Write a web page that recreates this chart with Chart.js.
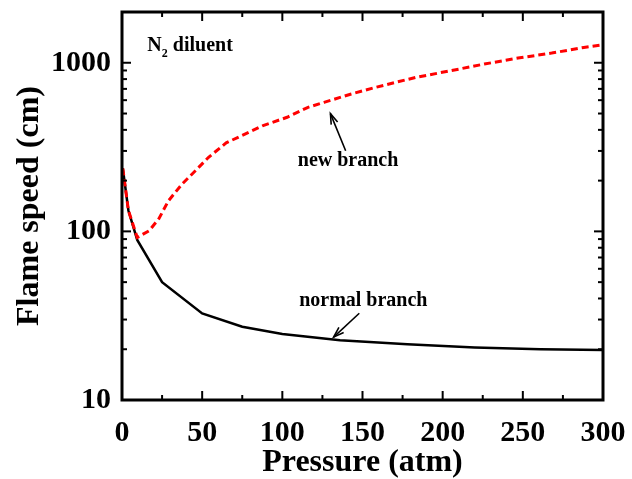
<!DOCTYPE html>
<html>
<head>
<meta charset="utf-8">
<script src="https://cdn.jsdelivr.net/npm/chart.js@4.4.1/dist/chart.umd.min.js"></script>
<style>
  html, body { margin: 0; padding: 0; background: #fff; }
</style>
</head>
<body>
<canvas id="flame" width="632" height="479"></canvas>
<script>
/* Flame speed vs pressure, N2 diluent */
const normalP = [0.5, 4, 9.5, 25, 50, 75, 100, 136, 178, 220, 261, 300];
const normalS = [236, 133, 89, 50, 32.6, 27.2, 24.6, 22.6, 21.4, 20.5, 20.0, 19.8];

const newP = [0.5, 4, 9.5, 17, 23, 29, 37.5, 46, 54, 65, 76, 88, 103, 116, 126, 143, 158, 183, 205, 226, 247, 268, 288, 300];
const newS = [236, 133, 92, 101, 119, 152, 191, 230, 275, 335, 375, 424, 475, 544, 582, 653, 714, 818, 897, 983, 1066, 1141, 1232, 1277];

const xTicks = [0, 50, 100, 150, 200, 250, 300];
const yTicks = [10, 100, 1000];

const SERIF = '"Liberation Serif", "Times New Roman", serif';

function pts(xs, ys) {
  return xs.map((x, i) => ({ x: x, y: ys[i] }));
}

/* Helper: frame + inward ticks on all four sides */
const frameTicks = {
  id: 'frameTicks',
  afterDraw(chart) {
    const { ctx, chartArea: a, scales: { x, y } } = chart;
    ctx.save();
    ctx.strokeStyle = '#000';
    ctx.lineWidth = 2;
    const seg = (x1, y1, x2, y2) => { ctx.beginPath(); ctx.moveTo(x1, y1); ctx.lineTo(x2, y2); ctx.stroke(); };

    for (let v = 0; v <= 300; v += 25) {
      const px = x.getPixelForValue(v);
      const len = v % 50 === 0 ? 9 : 5;
      seg(px, a.bottom, px, a.bottom - len);
      seg(px, a.top, px, a.top + len);
    }
    [10, 100, 1000].forEach(dec => {
      for (let m = 1; m <= 9; m++) {
        const v = m * dec;
        if (v < y.min || v > y.max) continue;
        const py = y.getPixelForValue(v);
        const len = m === 1 ? 9 : 5;
        seg(a.left, py, a.left + len, py);
        seg(a.right, py, a.right - len, py);
      }
    });

    ctx.lineWidth = 3;
    ctx.strokeRect(a.left, a.top, a.right - a.left, a.bottom - a.top);
    ctx.restore();
  }
};

/* Helper: text labels and arrows placed in data coordinates */
const notes = {
  id: 'notes',
  afterDraw(chart) {
    const { ctx, scales: { x, y } } = chart;
    const X = v => x.getPixelForValue(v);
    const Y = v => y.getPixelForValue(v);
    ctx.save();
    ctx.fillStyle = '#000';
    ctx.strokeStyle = '#000';
    ctx.textBaseline = 'middle';

    // N2 diluent
    ctx.textAlign = 'left';
    ctx.font = 'bold 20px ' + SERIF;
    let nx = X(15.8), ny = Y(1260);
    ctx.fillText('N', nx, ny);
    let w = ctx.measureText('N').width;
    ctx.font = 'bold 12px ' + SERIF;
    ctx.fillText('2', nx + w, ny + 8);
    let w2 = ctx.measureText('2').width;
    ctx.font = 'bold 20px ' + SERIF;
    ctx.fillText(' diluent', nx + w + w2, ny);

    ctx.textAlign = 'center';
    ctx.fillText('new branch', X(141), Y(263));
    ctx.fillText('normal branch', X(150.5), Y(38.5));

    const arrow = (x1, y1, x2, y2) => {
      ctx.lineWidth = 1.6;
      ctx.beginPath(); ctx.moveTo(x1, y1); ctx.lineTo(x2, y2); ctx.stroke();
      const ang = Math.atan2(y2 - y1, x2 - x1);
      const hl = 11, spread = 0.32;
      ctx.beginPath();
      ctx.moveTo(x2 - hl * Math.cos(ang - spread), y2 - hl * Math.sin(ang - spread));
      ctx.lineTo(x2, y2);
      ctx.lineTo(x2 - hl * Math.cos(ang + spread), y2 - hl * Math.sin(ang + spread));
      ctx.stroke();
    };
    arrow(X(139.5), Y(301), X(130), Y(499));
    arrow(X(148), Y(32.7), X(132), Y(23.6));
    ctx.restore();
  }
};

new Chart(document.getElementById('flame'), {
  type: 'line',
  data: {
    datasets: [
      {
        label: 'new branch',
        data: pts(newP, newS),
        borderColor: '#ff0000',
        borderWidth: 3,
        borderDash: [7, 4],
        pointRadius: 0,
        tension: 0,
        fill: false
      },
      {
        label: 'normal branch',
        data: pts(normalP, normalS),
        borderColor: '#000000',
        borderWidth: 2.5,
        pointRadius: 0,
        tension: 0,
        fill: false
      }
    ]
  },
  options: {
    responsive: false,
    animation: false,
    layout: { padding: { left: 0, right: 29, top: 12, bottom: 0 } },
    plugins: {
      legend: { display: false },
      tooltip: { enabled: false }
    },
    scales: {
      x: {
        type: 'linear',
        min: 0,
        max: 300,
        afterBuildTicks: s => { s.ticks = xTicks.map(v => ({ value: v })); },
        afterFit: s => { s.height = 79; s.paddingLeft = 0; s.paddingRight = 0; },
        grid: { display: false, drawTicks: false },
        border: { display: false },
        ticks: {
          color: '#000',
          padding: 15,
          maxRotation: 0,
          font: { family: SERIF, size: 30, weight: 'bold' }
        },
        title: {
          display: true,
          text: 'Pressure (atm)',
          color: '#000',
          font: { family: SERIF, size: 32, weight: 'bold', lineHeight: 1 },
          padding: { top: 0, bottom: 0 }
        }
      },
      y: {
        type: 'logarithmic',
        min: 10,
        max: 2000,
        afterBuildTicks: s => { s.ticks = yTicks.map(v => ({ value: v })); },
        afterFit: s => { s.width = 122; s.paddingTop = 0; s.paddingBottom = 0; },
        grid: { display: false, drawTicks: false },
        border: { display: false },
        ticks: {
          color: '#000',
          padding: 11,
          callback: v => String(v),
          font: { family: SERIF, size: 30, weight: 'bold' }
        },
        title: {
          display: true,
          text: 'Flame speed (cm)',
          color: '#000',
          font: { family: SERIF, size: 32, weight: 'bold', lineHeight: 1 },
          padding: { top: 14, bottom: 0 }
        }
      }
    }
  },
  plugins: [frameTicks, notes]
});
</script>
</body>
</html>
